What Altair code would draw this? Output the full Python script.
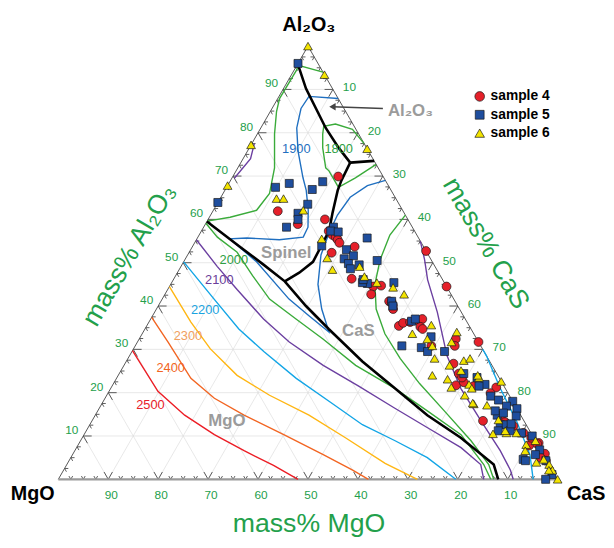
import altair as alt
import pandas as pd
import numpy as np

# ---------------- data (mass%): pairs (CaS, Al2O3); MgO = 100 - CaS - Al2O3
iso_2500 = [(0, 29.7), (9.8, 20.3), (17.9, 14.8), (26.1, 10.3), (33.9, 6.6), (41.5, 3.2), (48, 0)]
iso_2400 = [(0, 37.4), (6.1, 31.7), (14.9, 23.3), (21.9, 18.7), (29.8, 14.8), (40.0, 10.3),
            (50.2, 5.7), (57.9, 2.1), (62.1, 0)]
iso_2300 = [(0, 44.5), (8.4, 36.3), (15.4, 30.1), (23.8, 24.0), (32.6, 19.4), (42.8, 14.8),
            (52.7, 9.6), (63.6, 3.7), (71.9, 0)]
iso_2200_mgo = [(0, 50.2), (10.4, 41.6), (18.8, 34.7), (26.4, 29.5), (36.0, 23.3), (45.6, 17.8),
                (54.6, 12.6), (63.0, 8.9), (71.4, 5.0), (79.6, 0)]
iso_2100_mgo = [(0, 55.3), (7.3, 49.1), (13.9, 43.8), (22.6, 37.0), (30.4, 31.7), (39.9, 26.3),
                (49.4, 21.5), (59.2, 16.4), (68.0, 11.9), (77.0, 7.3), (82.9, 3.4), (85.2, 0)]
iso_2000_mgo = [(0, 59.1), (3.9, 55.9), (9.5, 52.5), (15.4, 47.0), (21.5, 41.6), (29.1, 37.0),
                (36.8, 32.4), (46.4, 26.3), (56.9, 21.0), (66.0, 15.8), (75.5, 10.3), (83.5, 3.4),
                (86.6, 0)]
iso_2000_top = [(6.0, 94.0), (0.5, 95.5), (0.35, 87.9), (1.25, 84.9), (3.45, 79.7), (7.35, 71.9),
                (9.3, 66.0), (8.65, 62.1), (4.15, 60.5), (0, 59.6)]
iso_2000_cas = [(39.0, 61.0), (38.2, 56.4), (39.1, 50.7), (40.9, 45.0), (44.0, 39.3), (48.6, 33.6),
                (54.5, 27.9), (61.3, 22.1), (69.4, 15.8), (78.2, 8.9), (84.5, 3.4), (87.2, 0)]
iso_2100_cas = [(45.0, 55.0), (48.0, 50.7), (50.9, 46.1), (56.6, 38.6), (63.6, 28.5), (70.1, 21.0),
                (77.9, 13.5), (85.2, 6.6), (89.5, 2.1), (91.1, 0)]
iso_2100_top = [(0.5, 77.5), (1.5, 74.0), (0.5, 69.5)]
iso_2200_cas = [(70.0, 30.0), (71.5, 28.5), (78.0, 21.0), (85.0, 13.5), (91.6, 5.7), (95.1, 0)]
iso_1900 = [(12.1, 87.9), (6.0, 88.4), (5.8, 85.6), (7.2, 81.1), (10.1, 75.8), (14.2, 69.6),
            (16.3, 66.7), (19.0, 62.1), (20.9, 58.2), (21.1, 55.9), (16.6, 55.3), (9.9, 55.7),
            (6.6, 55.5), (14.6, 50.2), (25.4, 41.6), (31.4, 37.7), (37.2, 34.0), (33.1, 39.3),
            (29.5, 45.0), (26.7, 51.8), (25.8, 56.8), (25.4, 61.0), (25.9, 65.1), (28.0, 67.8),
            (31.0, 69.0)]
iso_1800 = [(22.5, 77.5), (18.5, 80.8), (14.5, 82.0), (12.4, 81.5), (13.1, 79.7), (14.7, 76.5),
            (17.6, 71.9), (18.6, 71.2), (22.4, 67.4), (24.7, 69.6), (27.3, 72.7)]

bound_mgo = [(0, 59.5), (9.5, 53.7), (16.4, 49.5), (22.5, 45.7), (29.6, 40.0), (36.8, 34.7),
             (47.3, 27.2), (56.9, 21.0), (66.5, 14.8), (75.8, 9.6), (85.5, 3.4), (88.1, 0)]
bound_sp_cas = [(22.5, 45.7), (24.4, 47.7), (25.9, 50.2), (25.7, 54.6), (25.5, 57.5), (24.2, 61.4),
                (22.6, 66.7), (22.2, 69.0), (21.9, 73.1)]
bound_al_sp = [(21.9, 73.1), (17.9, 76.5), (13.0, 81.1), (8.8, 85.6), (4.5, 90.2), (0, 95.9)]
bound_al_cas = [(21.9, 73.1), (26.5, 73.5)]

sample4 = [(21.1, 69.9), (13.0, 61.9), (18.5, 58.9), (23.4, 60.0), (25.5, 57.3), (26.7, 56.4),
           (27.6, 55.9), (28.3, 55.3), (29.0, 54.6), (28.6, 52.3), (32.5, 53.7), (35.6, 46.3),
           (40.8, 44.5), (42.3, 44.7), (41.3, 42.7), (45.7, 41.1), (46.9, 40.2), (47.3, 52.7),
           (50.5, 35.4), (51.0, 36.1), (52.3, 36.3), (53.3, 36.8), (54.4, 37.0), (54.9, 35.2),
           (55.6, 34.7), (59.3, 30.8), (55.5, 44.5), (63.4, 32.4), (64.0, 30.8), (68.3, 31.7),
           (65.8, 26.7), (68.0, 24.4), (68.8, 21.7), (70.0, 22.4), (72.4, 21.5), (77.1, 21.2),
           (78.3, 13.5), (81.4, 14.6), (87.8, 10.7), (92.0, 8.4), (90.4, 7.8), (94.5, 5.9),
           (91.8, 8.2), (95.5, 4.3), (46.3, 40.9), (47.4, 39.3), (69.1, 23.5), (76.6, 19.9),
           (82.9, 13.2), (85.0, 12.3), (89.9, 9.6), (94.1, 5.0)]
sample5 = [(0, 96.0), (9.8, 67.4), (12.1, 68.3), (18.6, 68.7), (17.4, 66.9), (0, 63.9), (18.2, 63.5),
           (17.3, 61.4), (18.0, 60.0), (16.6, 58.2), (26.0, 58.2), (25.9, 57.3), (27.5, 57.1),
           (25.8, 53.9), (34.0, 55.7), (31.2, 53.0), (33.3, 51.6), (31.8, 50.9), (33.2, 49.8),
           (34.2, 48.6), (38.6, 50.5), (35.5, 49.5), (39.3, 45.2), (38.2, 45.4), (44.5, 45.4),
           (46.2, 41.1), (47.0, 40.0), (52.5, 36.5), (53.4, 30.8), (58.2, 32.9), (53.0, 37.0),
           (57.5, 30.4), (59.2, 29.5), (62.6, 29.5), (72.1, 23.5), (74.5, 21.9), (73.5, 21.5),
           (77.0, 19.2), (82.0, 18.0), (83.7, 16.3), (81.3, 16.9), (80.5, 14.8), (79.6, 15.8),
           (82.2, 12.6), (83.4, 12.6), (84.9, 11.2), (90.8, 4.6), (69.0, 24.4), (79.0, 18.3),
           (81.5, 15.3), (84.4, 14.6), (84.3, 12.8), (87.4, 10.7), (89.9, 10.0), (91.4, 4.3),
           (95.5, 4.3), (93.0, 6.8), (92.7, 5.7), (98.3, 1.1), (82.5, 11.2), (97.6, 0), (38.0, 46.1)]
sample6 = [(0, 100), (6.6, 93.4), (23.7, 76.3), (0, 77.2), (0, 67.8), (11.3, 64.8), (12.7, 64.8),
           (18.0, 62.1), (25.0, 55.5), (28.3, 51.1), (30.7, 48.4), (35.8, 49.1), (37.9, 46.8),
           (41.1, 45.4), (44.9, 44.3), (47.9, 42.7), (54.1, 33.6), (56.9, 35.6), (57.7, 32.4),
           (59.5, 30.8), (61.4, 27.9), (62.8, 34.0), (62.9, 31.7), (67.5, 27.4), (68.5, 27.9),
           (65.2, 26.3), (62.9, 24.0), (66.4, 23.1), (68.1, 21.2), (68.1, 25.1), (71.3, 21.9),
           (71.7, 19.4), (74.5, 17.4), (77.3, 17.1), (72.5, 23.5), (77.4, 22.6), (81.8, 10.5),
           (81.3, 13.7), (84.4, 10.7), (86.4, 10.7), (89.7, 8.0), (91.1, 8.9), (90.2, 6.6),
           (94.9, 4.6), (96.6, 3.4), (100, 0), (97.9, 2.1), (72.0, 24.0), (72.3, 21.0), (74.2, 17.6),
           (83.9, 11.2), (93.8, 3.9), (97.2, 2.1)]

tick_values = [10, 20, 30, 40, 50, 60, 70, 80, 90]
iso_labels = [("1900", 9.5, 76.3, "#1f6fc0"), ("1800", 18.0, 76.3, "#2ea043"),
              ("2000", 9.8, 50.7, "#2ea043"), ("2100", 9.2, 46.1, "#6a3d9a"),
              ("2200", 9.9, 39.0, "#1aa3e0"), ("2300", 9.4, 33.1, "#f0a060"),
              ("2400", 9.7, 25.6, "#f26522"), ("2500", 9.9, 17.1, "#e8202a")]
field_labels = [("Spinel", 19.5, 52.3), ("CaS", 43.0, 34.2), ("MgO", 27.0, 13.5)]

# ---------------- styling
FONT = "Liberation Sans"
GREEN = "#23a04b"
C_RED, C_ORG, C_YEL, C_LBL, C_PUR, C_GRN, C_BLU = ("#ec1c24", "#f26522", "#ffb612", "#12a5e6",
                                                   "#6b3fa0", "#3aab3a", "#1f6fc0")
W, H = 506, 439
SQ = 0.8660254
XS = alt.Scale(domain=[0, 1])
YS = alt.Scale(domain=[0, SQ])
CALC = dict(x="(datum.c + datum.a / 2) / 100", y="datum.a * 0.8660254 / 100")


def X(f="x"):
    return alt.X(f"{f}:Q", scale=XS, axis=None)


def Y(f="y"):
    return alt.Y(f"{f}:Q", scale=YS, axis=None)


def curves_df(curves):
    rows = []
    for k, (pts, col) in enumerate(curves):
        for i, (c, a) in enumerate(pts):
            rows.append(dict(id=k, i=i, c=c, a=a, col=col))
    return pd.DataFrame(rows)


def tern(c, a):
    return (c + a / 2) / 100, a * SQ / 100


# grid lines
grid = []
for v in tick_values:
    for (c1, a1, c2, a2) in [(0, v, 100 - v, v), (v, 0, v, 100 - v), (100 - v, 0, 0, 100 - v)]:
        x1, y1 = tern(c1, a1)
        x2, y2 = tern(c2, a2)
        grid.append(dict(x=x1, y=y1, x2=x2, y2=y2))
grid_df = pd.DataFrame(grid)

# edges
edges_df = pd.DataFrame([
    dict(x=0, y=0, x2=0.5, y2=SQ, k="side"),
    dict(x=1, y=0, x2=0.5, y2=SQ, k="side"),
])
bottom_df = pd.DataFrame([dict(x=0, y=0, x2=1, y2=0)])

# tick marks
ticks = []
for j in range(1, 40):
    t = j * 2.5
    L = (8.5 if j % 4 == 0 else 3.8) / W
    # bottom edge
    x0, y0 = tern(t, 0)
    for dx, dy in [(-0.5, SQ), (0.5, SQ)]:
        ticks.append(dict(x=x0, y=y0, x2=x0 + dx * L, y2=y0 + dy * L))
    # left edge
    x0, y0 = tern(0, t)
    for dx, dy in [(1, 0), (0.5, -SQ)]:
        ticks.append(dict(x=x0, y=y0, x2=x0 + dx * L, y2=y0 + dy * L))
    # right edge
    x0, y0 = tern(100 - t, t)
    for dx, dy in [(-1, 0), (-0.5, -SQ)]:
        ticks.append(dict(x=x0, y=y0, x2=x0 + dx * L, y2=y0 + dy * L))
ticks_df = pd.DataFrame(ticks)

# tick labels
bl = pd.DataFrame([dict(c=100 - v, a=0, t=str(v)) for v in tick_values])
ll = pd.DataFrame([dict(c=0, a=v, t=str(v)) for v in tick_values])
rl = pd.DataFrame([dict(c=v, a=100 - v, t=str(v)) for v in tick_values])

iso_df = curves_df([
    (iso_2500, C_RED), (iso_2400, C_ORG), (iso_2300, C_YEL), (iso_2200_mgo, C_LBL),
    (iso_2100_mgo, C_PUR), (iso_2000_mgo, C_GRN), (iso_2000_top, C_GRN), (iso_2000_cas, C_GRN),
    (iso_2100_cas, C_PUR), (iso_2100_top, C_PUR), (iso_2200_cas, C_LBL), (iso_1900, C_BLU),
    (iso_1800, C_GRN),
])
bnd_df = curves_df([(bound_mgo, "black"), (bound_sp_cas, "black"), (bound_al_sp, "black"),
                    (bound_al_cas, "black")])


def pts_df(pts):
    return pd.DataFrame([dict(c=c, a=a) for c, a in pts])


layers = []
layers.append(alt.Chart(grid_df).mark_rule(color="#dedede", strokeWidth=0.7).encode(
    x=X("x"), y=Y("y"), x2="x2:Q", y2="y2:Q"))
layers.append(alt.Chart(ticks_df).mark_rule(color="#333333", strokeWidth=0.8).encode(
    x=X("x"), y=Y("y"), x2="x2:Q", y2="y2:Q"))
layers.append(alt.Chart(edges_df).mark_rule(color="#555555", strokeWidth=1).encode(
    x=X("x"), y=Y("y"), x2="x2:Q", y2="y2:Q"))
layers.append(alt.Chart(bottom_df).mark_rule(color="#9a9a9a", strokeWidth=2.2).encode(
    x=X("x"), y=Y("y"), x2="x2:Q", y2="y2:Q"))

layers.append(alt.Chart(iso_df).transform_calculate(**CALC).mark_line(strokeWidth=1.4).encode(
    x=X(), y=Y(), color=alt.Color("col:N", scale=None), detail="id:N", order="i:Q"))
layers.append(alt.Chart(bnd_df).transform_calculate(**CALC).mark_line(
    strokeWidth=2.6, color="black").encode(x=X(), y=Y(), detail="id:N", order="i:Q"))

# annotation arrow
arrow_df = pd.DataFrame([dict(c=22.2, a=85.6, i=0), dict(c=11.9, a=86.0, i=1)])
layers.append(alt.Chart(arrow_df).transform_calculate(**CALC).mark_line(
    color="#444444", strokeWidth=1.4).encode(x=X(), y=Y(), order="i:Q"))
layers.append(alt.Chart(arrow_df[arrow_df.i == 1]).transform_calculate(**CALC).mark_point(
    shape="triangle-left", filled=True, color="#444444", size=55, opacity=1).encode(x=X(), y=Y()))

# samples
for pts, shape, fill, size in [(sample4, "circle", "#e5202a", 80), (sample5, "square", "#1f4e9e", 66),
                               (sample6, "triangle-up", "#f3e400", 78)]:
    layers.append(alt.Chart(pts_df(pts)).transform_calculate(**CALC).mark_point(
        shape=shape, filled=True, fill=fill, stroke="#1a1a1a", strokeWidth=0.7, size=size,
        opacity=1).encode(x=X(), y=Y()))

# tick labels
layers.append(alt.Chart(bl).transform_calculate(**CALC).mark_text(
    font=FONT, fontSize=12, color=GREEN, dx=3, dy=16).encode(x=X(), y=Y(), text="t:N"))
layers.append(alt.Chart(ll).transform_calculate(**CALC).mark_text(
    font=FONT, fontSize=12, color=GREEN, align="right", dx=-5, dy=-6).encode(x=X(), y=Y(), text="t:N"))
layers.append(alt.Chart(rl).transform_calculate(**CALC).mark_text(
    font=FONT, fontSize=12, color=GREEN, align="left", dx=10, dy=-2).encode(x=X(), y=Y(), text="t:N"))

# isotherm labels
iso_lab_df = pd.DataFrame([dict(t=t, c=c, a=a, col=col) for t, c, a, col in iso_labels])
layers.append(alt.Chart(iso_lab_df).transform_calculate(**CALC).mark_text(
    font=FONT, fontSize=13).encode(x=X(), y=Y(), text="t:N", color=alt.Color("col:N", scale=None)))
# field labels
fl_df = pd.DataFrame([dict(t=t, c=c, a=a) for t, c, a in field_labels])
layers.append(alt.Chart(fl_df).transform_calculate(**CALC).mark_text(
    font=FONT, fontSize=17, fontWeight="bold", color="#9b9b9b").encode(x=X(), y=Y(), text="t:N"))
al_lab = pd.DataFrame([dict(t="Al₂O₃", c=27.9, a=84.9)])
layers.append(alt.Chart(al_lab).transform_calculate(**CALC).mark_text(
    font=FONT, fontSize=17, fontWeight="bold", color="#9b9b9b", align="left", dx=-22).encode(
    x=X(), y=Y(), text="t:N"))


def ptext(txt, px, py, size, color="black", weight="normal", angle=0, align="center"):
    df = pd.DataFrame([dict(t=txt)])
    return alt.Chart(df).mark_text(font=FONT, fontSize=size, fontWeight=weight, color=color,
                                   angle=angle, align=align, baseline="middle").encode(
        x=alt.value(px - 59), y=alt.value(py - 43), text="t:N")


layers.append(ptext("Al₂O₃", 313, 22, 20, weight="bold"))
layers.append(ptext("MgO", 33, 497, 20, weight="bold"))
layers.append(ptext("CaS", 594, 497, 20, weight="bold"))
layers.append(ptext("mass% MgO", 313, 527, 27, color=GREEN))
layers.append(ptext("mass% Al₂O₃", 131, 255, 27, color=GREEN, angle=300))
layers.append(ptext("mass% CaS", 492, 243, 27, color=GREEN, angle=60))

# legend
leg = pd.DataFrame([dict(s="sample 4", r=0), dict(s="sample 5", r=1), dict(s="sample 6", r=2)])
for r, shape, fill, size in [(0, "circle", "#e5202a", 95), (1, "square", "#1f4e9e", 80),
                             (2, "triangle-up", "#f3e400", 95)]:
    layers.append(alt.Chart(leg[leg.r == r]).transform_calculate(
        px="486 - 59", py="94 - 43 + datum.r * 18.6").mark_point(
        shape=shape, filled=True, fill=fill, stroke="#1a1a1a", strokeWidth=0.7, size=size,
        opacity=1).encode(x=alt.X("px:Q", scale=None, axis=None), y=alt.Y("py:Q", scale=None, axis=None)))
layers.append(alt.Chart(leg).transform_calculate(
    px="497 - 59", py="94 - 43 + datum.r * 18.6").mark_text(
    font=FONT, fontSize=14, fontWeight="bold", align="left", baseline="middle", color="black").encode(
    x=alt.X("px:Q", scale=None, axis=None), y=alt.Y("py:Q", scale=None, axis=None), text="s:N"))

chart = alt.layer(*layers).properties(
    width=W, height=H,
    autosize=alt.AutoSizeParams(type="none"),
    padding={"left": 51, "top": 35, "right": 49, "bottom": 66},
).configure_view(stroke=None)

chart.save("out.html", embed_options={"renderer": "svg", "actions": False})
